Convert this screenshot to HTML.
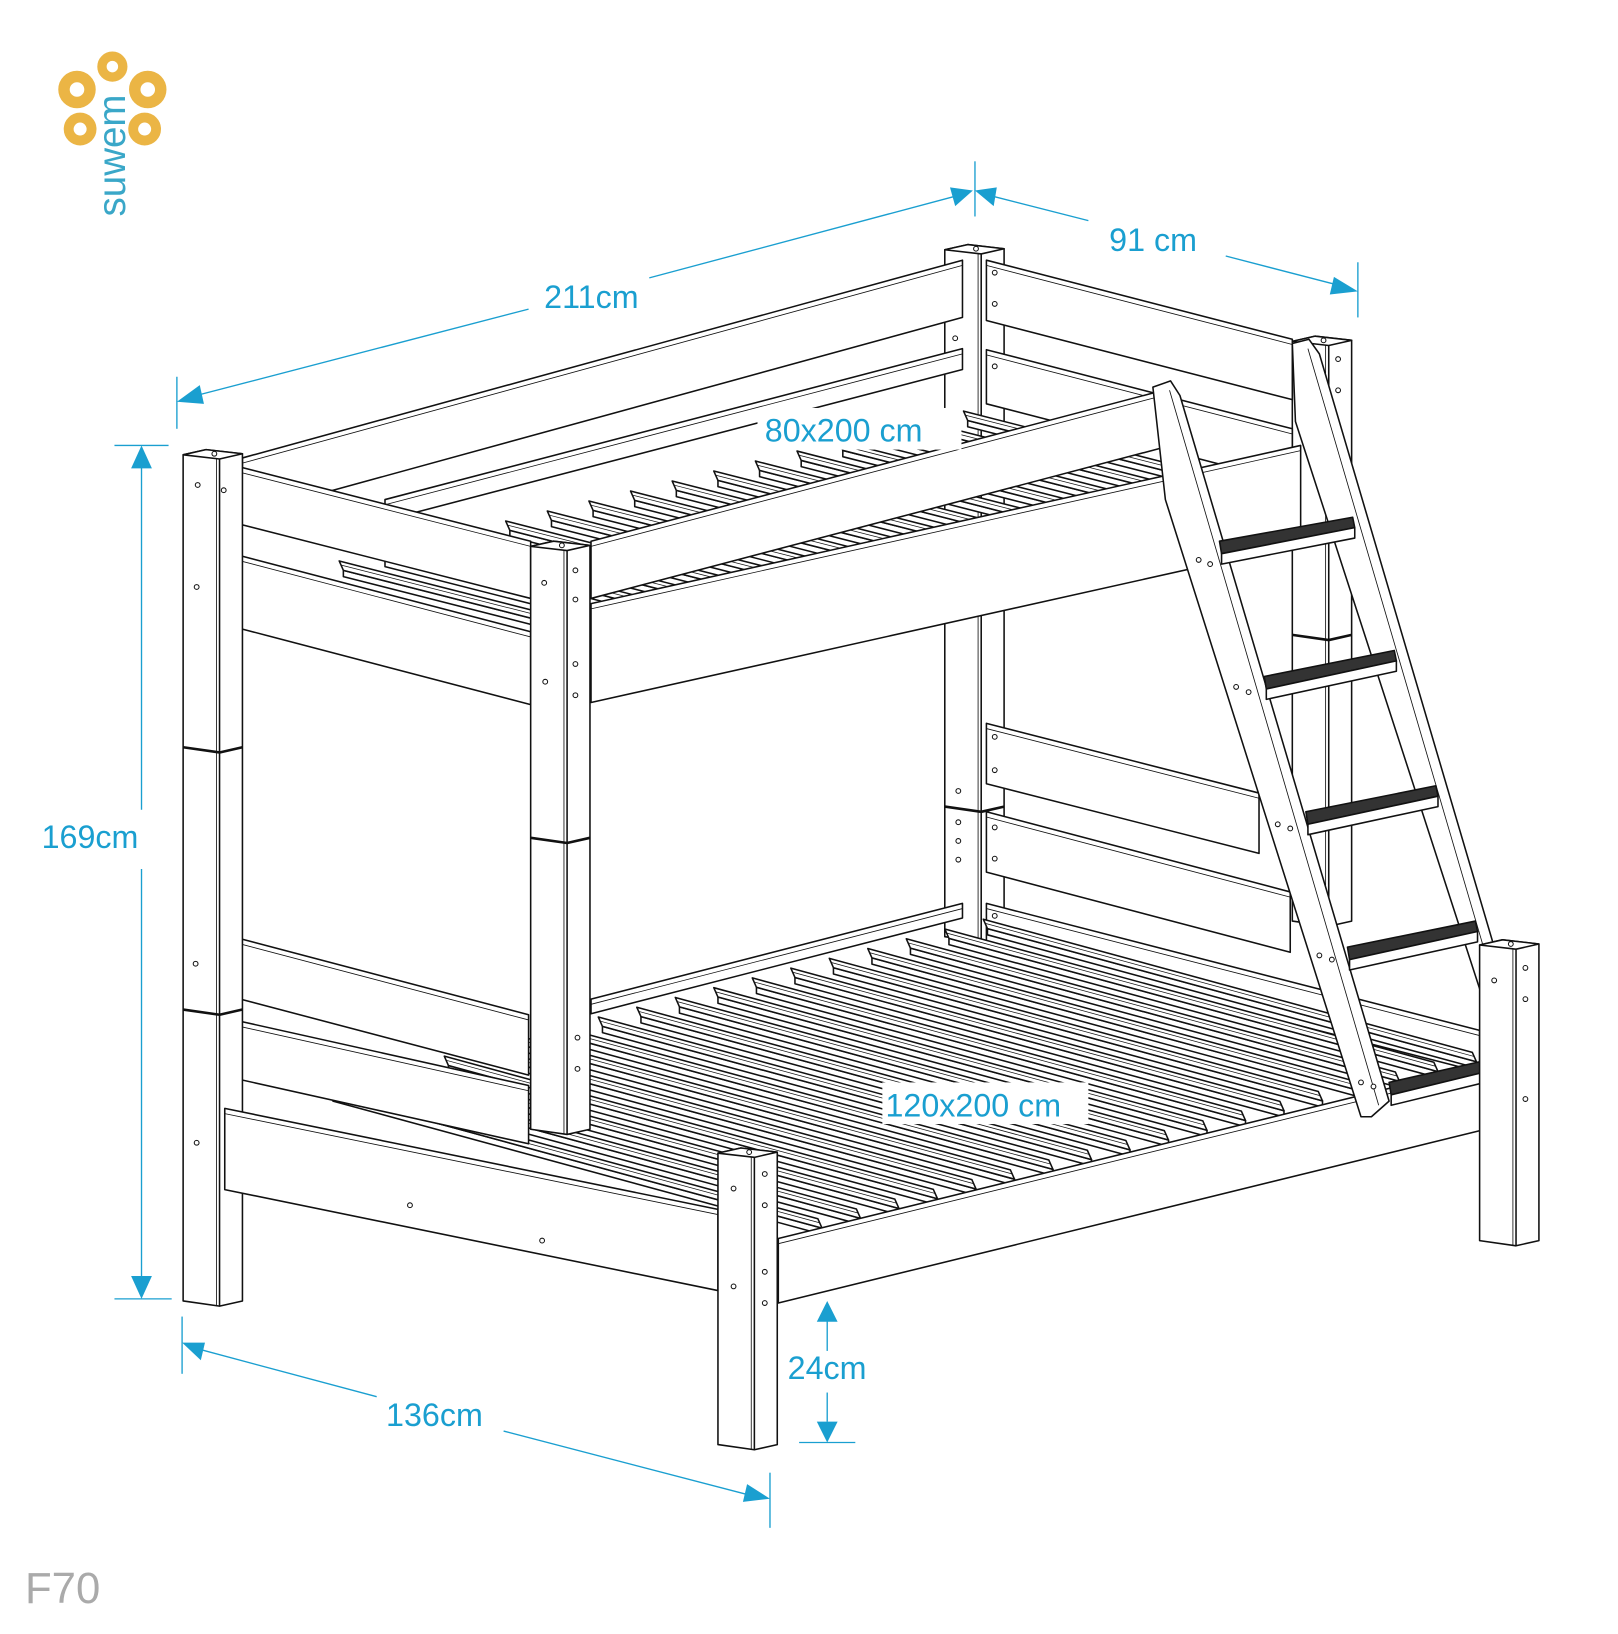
<!DOCTYPE html>
<html><head><meta charset="utf-8"><style>
html,body{margin:0;padding:0;background:#fff;}
svg{display:block;}
text{font-family:"Liberation Sans",sans-serif;}
</style></head><body>
<svg id="s" width="1618" height="1634" viewBox="0 0 1555 1570" preserveAspectRatio="none" xmlns="http://www.w3.org/2000/svg">
<g id="logo">
<circle cx="74" cy="86" r="12.5" fill="none" stroke="#ebb545" stroke-width="11"/>
<circle cx="108" cy="64" r="10" fill="none" stroke="#ebb545" stroke-width="9"/>
<circle cx="142" cy="86" r="12.5" fill="none" stroke="#ebb545" stroke-width="11"/>
<circle cx="77" cy="124" r="11" fill="none" stroke="#ebb545" stroke-width="9.5"/>
<circle cx="139" cy="124" r="11" fill="none" stroke="#ebb545" stroke-width="9.5"/>
<text transform="translate(120,208) rotate(-90)" font-size="37" fill="#3aa7c8">suwem</text>
</g>
<g id="draw" stroke="#111" stroke-width="1.5" fill="#fff" stroke-linejoin="round"></g>
<g id="dims" stroke="#1a9fd0" stroke-width="1.3" fill="none">
<line x1="170" y1="362" x2="170" y2="412"/>
<line x1="937" y1="155" x2="937" y2="208"/>
<line x1="1305" y1="252" x2="1305" y2="305"/>
<line x1="185" y1="381" x2="508" y2="297"/>
<line x1="624" y1="267" x2="920" y2="188"/>
<line x1="952" y1="188" x2="1046" y2="212"/>
<line x1="1178" y1="246" x2="1290" y2="275"/>
<line x1="110" y1="428" x2="162" y2="428"/>
<line x1="110" y1="1248" x2="165" y2="1248"/>
<line x1="136" y1="448" x2="136" y2="778"/>
<line x1="136" y1="835" x2="136" y2="1228"/>
<line x1="175" y1="1265" x2="175" y2="1320"/>
<line x1="740" y1="1415" x2="740" y2="1468"/>
<line x1="190" y1="1296" x2="362" y2="1342"/>
<line x1="484" y1="1375" x2="722" y2="1437"/>
<line x1="795" y1="1268" x2="795" y2="1298"/>
<line x1="795" y1="1338" x2="795" y2="1366"/>
<line x1="768" y1="1386" x2="822" y2="1386"/>
</g>
<g fill="#1a9fd0">
<polygon points="170,386 192,370 196,388"/>
<polygon points="935,183 913,180 918,198"/>
<polygon points="937,183 958,180 955,198"/>
<polygon points="1305,280 1282,266 1278,283"/>
<polygon points="136,428 126,450 146,450"/>
<polygon points="136,1248 126,1226 146,1226"/>
<polygon points="175,1290 197,1290 193,1307"/>
<polygon points="740,1440 718,1426 714,1443"/>
<polygon points="795,1250 785,1270 805,1270"/>
<polygon points="795,1386 785,1366 805,1366"/>
</g>
<g fill="#1a9fd0" font-size="31">
<text x="523" y="296">211cm</text>
<text x="1066" y="241">91 cm</text>
<rect x="728" y="392" width="196" height="40" fill="#fff"/>
<text x="735" y="424">80x200 cm</text>
<text x="40" y="815">169cm</text>
<rect x="848" y="1040" width="198" height="40" fill="#fff"/>
<text x="851" y="1073">120x200 cm</text>
<text x="757" y="1325">24cm</text>
<text x="371" y="1370">136cm</text>
</g>
<text x="24" y="1540" font-size="42" fill="#aaa">F70</text>
</svg>
<script>
var g=document.getElementById('draw');var NS='http://www.w3.org/2000/svg';
function P(pts,fill){var e=document.createElementNS(NS,'polygon');e.setAttribute('points',pts.map(function(p){return p.join(',')}).join(' '));if(fill)e.setAttribute('fill',fill);g.appendChild(e);return e;}
function L(a,b,c,d,w){var e=document.createElementNS(NS,'line');e.setAttribute('x1',a);e.setAttribute('y1',b);e.setAttribute('x2',c);e.setAttribute('y2',d);if(w)e.setAttribute('stroke-width',w);g.appendChild(e);}
function H(x,y){var e=document.createElementNS(NS,'circle');e.setAttribute('cx',x);e.setAttribute('cy',y);e.setAttribute('r',2.3);e.setAttribute('stroke-width',1);g.appendChild(e);}
function post(x,y0,y1,joints,holes){
 P([[x,y0+5],[x+22,y0],[x+57,y0+4],[x+57,y1-5],[x+35,y1],[x,y1-5]]);
 P([[x,y0+5],[x+22,y0],[x+57,y0+4],[x+35,y0+9]]);
 L(x+35,y0+9,x+35,y1);L(x+32,y0+9,x+32,y1,0.8);
 H(x+30,y0+4);
 (joints||[]).forEach(function(j){L(x,j,x+35,j+5,2.5);L(x+35,j+5,x+57,j,2.5);});
 (holes||[]).forEach(function(h){H(h[0],h[1]);});
}
function rail(a,b,h,fill){P([[a[0],a[1]],[b[0],b[1]],[b[0],b[1]+h],[a[0],a[1]+h]],fill);L(a[0],a[1]+5,b[0],b[1]+5,0.8);}
function slat(x,y,dx,dy){P([[x,y],[x+dx,y+dy],[x+dx,y+dy+6],[x,y+6]]);P([[x,y],[x+dx,y+dy],[x+dx-4,y+dy-9],[x-4,y-9]]);L(x-2,y-5,x+dx-2,y+dy-5,0.7);}
post(908,235,905,[775],[[918,275],[918,325],[921,760],[921,790],[921,808],[921,826]]);
post(1242,323,890,[610],[[1286,345],[1286,375]]);
rail([233,440],[925,250],55);
rail([370,480],[925,335],20);
rail([948,250],[1242,326],58);H(956,262);H(956,292);
rail([948,336],[1242,412],52);H(956,352);
rail([948,695],[1210,762],58);H(956,708);H(956,740);
rail([948,780],[1240,857],58);H(956,795);H(956,825);
rail([948,868],[1422,990],40);H(956,880);
rail([568,960],[925,868],14);
for(var i=0;i<18;i++){var x=320+i*37,y=1052-i*9.4;slat(x,y,470,128);}
rail([216,898],[508,975],58);
rail([216,978],[508,1043],56);
for(var i=0;i<16;i++){var x=330+i*40,y=548-i*9.6;slat(x,y,290,74);}
rail([216,445],[510,520],55);
rail([216,530],[510,607],70);
post(176,432,1255,[718,970],[[190,466],[189,564],[188,926],[189,1098],[215,471]]);
post(510,520,1090,[805],[[523,560],[524,655],[553,548],[553,576],[553,638],[553,668],[555,997],[555,1027]]);
rail([568,520],[1118,375],55);
rail([568,580],[1250,428],95);
rail([216,1065],[690,1162],78);H(394,1158);H(521,1192);
rail([748,1190],[1440,1020],62);
P([[1108,372],[1125,366],[1134,380],[1335,1058],[1318,1073],[1308,1073],[1120,480]]);
L(1124,375,1325,1062,0.8);
P([[1242,330],[1258,326],[1268,340],[1467,1015],[1455,1030],[1448,1030],[1245,405]]);
L(1257,335,1458,1020,0.8);
[[1172,520,1300,497],[1215,650,1340,625],[1255,780,1380,755],[1295,910,1418,885],[1335,1040,1458,1012]].forEach(function(s){
 P([[s[0],s[1]],[s[2],s[3]],[s[2]+2,s[3]+10],[s[0]+2,s[1]+12]],'#333');
 P([[s[0]+2,s[1]+12],[s[2]+2,s[3]+10],[s[2]+2,s[3]+20],[s[0]+2,s[1]+22]]);
});
[[1152,538],[1163,542],[1188,660],[1200,665],[1228,792],[1240,796],[1268,918],[1280,922],[1308,1040],[1320,1044]].forEach(function(h){H(h[0],h[1]);});
post(690,1103,1393,[],[[705,1142],[735,1128],[735,1158],[705,1236],[735,1222],[735,1252]]);
post(1422,903,1197,[],[[1436,942],[1466,930],[1466,960],[1466,1056]]);
</script>
</body></html>
